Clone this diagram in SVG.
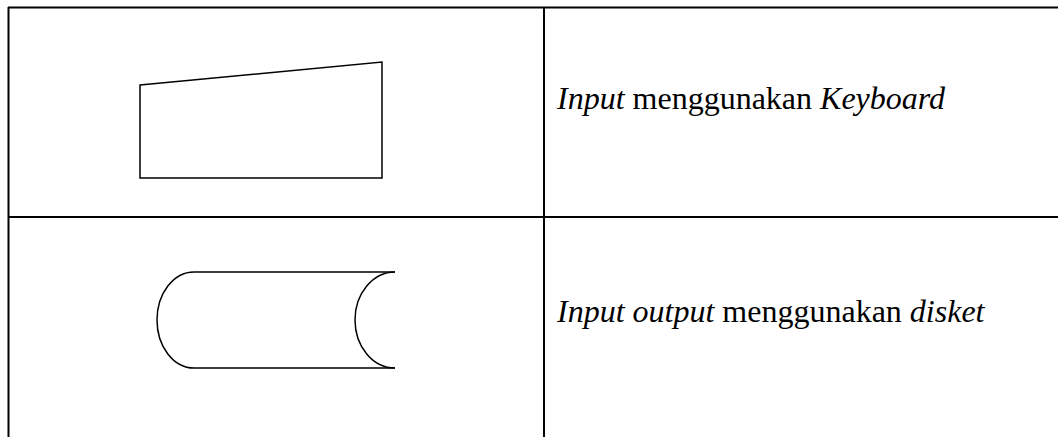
<svg xmlns="http://www.w3.org/2000/svg" width="1058" height="437" viewBox="0 0 1058 437">
<style>
.grid{stroke:#000;stroke-width:2;fill:none}
.shape{stroke:#000;stroke-width:1.5;fill:none}
.lbl{font-family:"Liberation Serif","Times New Roman",serif;font-size:32px;fill:#000}
.it{font-style:italic}
</style>
<g id="table" class="grid">
<line x1="8" y1="7.5" x2="1058" y2="7.5"/>
<line x1="8.5" y1="7" x2="8.5" y2="437"/>
<line x1="544" y1="7" x2="544" y2="437"/>
<line x1="8" y1="217" x2="1058" y2="217"/>
</g>
<g id="node-keyboard">
<path class="shape" d="M140,85 L382,62 L382,178 L140,178 Z"/>
<text class="lbl" x="557" y="109"><tspan class="it">Input</tspan> menggunakan <tspan class="it">Keyboard</tspan></text>
</g>
<g id="node-disket">
<path class="shape" d="M395,272 L194,272 A37,48 0 0 0 194,368 L395,368"/>
<path class="shape" d="M395,272 A40,48 0 0 0 395,368"/>
<text class="lbl" x="557" y="322"><tspan class="it">Input output</tspan> menggunakan <tspan class="it">disket</tspan></text>
</g>
<g id="connectors"/>
</svg>
